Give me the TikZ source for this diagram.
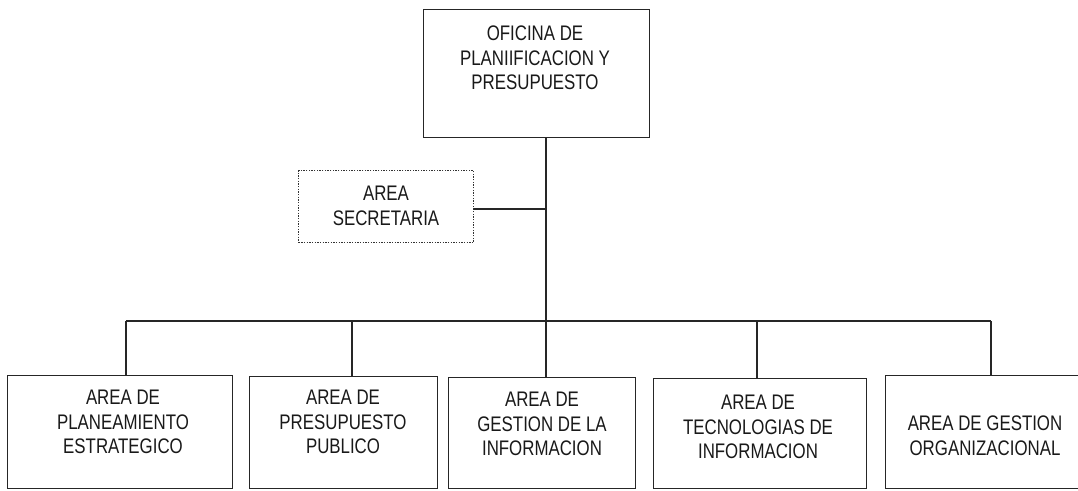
\documentclass[tikz,border=0pt]{standalone}
\usepackage{fontspec}
\setmainfont{Liberation Sans}[FakeStretch=0.8]
\begin{document}
\begin{tikzpicture}[x=0.75pt,y=-0.75pt,
  boxs/.style={draw=black!85, line width=1.1pt, rectangle, inner sep=0pt, anchor=north west},
  dotbox/.style={draw=black!80, line width=1pt, densely dotted, rectangle, inner sep=0pt, anchor=north west},
  lbl/.style={align=center, inner sep=0pt, font=\fontsize{15.8pt}{18.4pt}\selectfont, text=black!90},
  conn/.style={draw=black!85, line width=1.1pt}]
\useasboundingbox (0,0) rectangle (1078,490);
\clip (0,0) rectangle (1078,490);
\fill[white] (0,0) rectangle (1078,490);
% top
\node[boxs, minimum width=226*0.75pt, minimum height=128*0.75pt] (top) at (423,9) {};
\node[lbl] (topt) at (535,58) {OFICINA DE\\PLANIIFICACION Y\\PRESUPUESTO};
% secretaria
\node[dotbox, minimum width=175*0.75pt, minimum height=72*0.75pt] (sec) at (298,170) {};
\node[lbl] (sect) at (386,206) {AREA\\SECRETARIA};
% bottom boxes
\node[boxs, minimum width=225*0.75pt, minimum height=113*0.75pt] (b1) at (7,375) {};
\node[lbl] (b1t) at (123,422) {AREA DE\\PLANEAMIENTO\\ESTRATEGICO};
\node[boxs, minimum width=188*0.75pt, minimum height=112*0.75pt] (b2) at (249,376) {};
\node[lbl] (b2t) at (343,422) {AREA DE\\PRESUPUESTO\\PUBLICO};
\node[boxs, minimum width=187*0.75pt, minimum height=111*0.75pt] (b3) at (448,377) {};
\node[lbl] (b3t) at (542,424) {AREA DE\\GESTION DE LA\\INFORMACION};
\node[boxs, minimum width=213*0.75pt, minimum height=110*0.75pt] (b4) at (653,378) {};
\node[lbl] (b4t) at (758,427) {AREA DE\\TECNOLOGIAS DE\\INFORMACION};
\node[boxs, minimum width=210*0.75pt, minimum height=113*0.75pt] (b5) at (885,375) {};
\node[lbl] (b5t) at (985,436) {AREA DE GESTION\\ORGANIZACIONAL};
% junctions
\coordinate (jtop) at (546,137);
\coordinate (jsec) at (546,209);
\coordinate (jbus) at (546,321);
\coordinate (bl) at (126,321);
\coordinate (br) at (991,321);
\draw[conn] (top.south -| jtop) -- (jbus);
\draw[conn] (sec.east |- jsec) -- (jsec);
\draw[conn] (bl) -- (br);
\draw[conn] (bl) -- (b1.north -| bl);
\draw[conn] (352,321) -- (b2.north -| 352,0);
\draw[conn] (jbus) -- (b3.north -| jbus);
\draw[conn] (757,321) -- (b4.north -| 757,0);
\draw[conn] (br) -- (b5.north -| br);
\end{tikzpicture}
\end{document}
